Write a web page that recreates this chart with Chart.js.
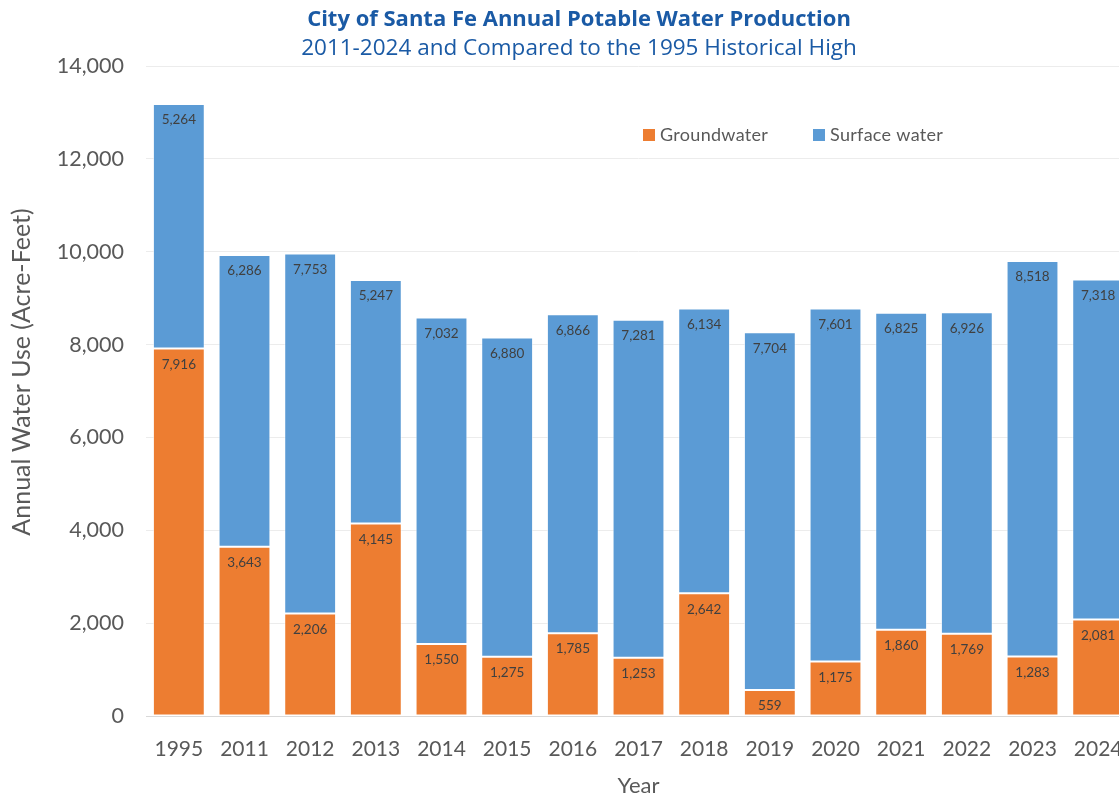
<!DOCTYPE html>
<html>
<head>
<meta charset="utf-8">
<script src="https://cdn.jsdelivr.net/npm/chart.js@4.4.1/dist/chart.umd.min.js"></script>
<style>
  html, body { margin: 0; padding: 0; background: #ffffff; overflow: hidden; }
  #wrap { width: 1158px; height: 797px; }
</style>
</head>
<body>
<div id="wrap"><canvas id="c" width="1158" height="797"></canvas></div>
<script>
const categories = ['1995','2011','2012','2013','2014','2015','2016','2017','2018','2019','2020','2021','2022','2023','2024'];
const groundwater = [7916, 3643, 2206, 4145, 1550, 1275, 1785, 1253, 2642, 559, 1175, 1860, 1769, 1283, 2081];
const surfaceWater = [5264, 6286, 7753, 5247, 7032, 6880, 6866, 7281, 6134, 7704, 7601, 6825, 6926, 8518, 7318];
const yTicks = [0, 2000, 4000, 6000, 8000, 10000, 12000, 14000];
const yTitle = 'Annual Water Use (Acre-Feet)';

const ORANGE = '#ED7D31';
const BLUE = '#5B9BD5';
const TEXT = '#595959';

const dataLabels = {
  id: 'dataLabels',
  afterDatasetsDraw(chart) {
    const ctx = chart.ctx;
    ctx.save();
    ctx.font = '13.5px Lato';
    ctx.fillStyle = '#404040';
    ctx.textAlign = 'center';
    ctx.textBaseline = 'middle';
    chart.data.datasets.forEach((ds, i) => {
      const meta = chart.getDatasetMeta(i);
      meta.data.forEach((bar, j) => {
        ctx.fillText(ds.data[j].toLocaleString('en-US'), bar.x, bar.y + 16);
      });
    });
    ctx.restore();
  }
};

const innerLegend = {
  id: 'innerLegend',
  afterDraw(chart) {
    const ctx = chart.ctx;
    const a = chart.chartArea;
    ctx.save();
    ctx.font = '18px Lato';
    ctx.letterSpacing = '0.3px';
    ctx.textBaseline = 'middle';
    ctx.textAlign = 'left';
    const y = a.top + 69;
    const starts = [a.left + 497, a.left + 667];
    chart.data.datasets.forEach((ds, i) => {
      const x = starts[i];
      ctx.fillStyle = ds.backgroundColor;
      ctx.fillRect(x, y - 6, 12, 12);
      ctx.fillStyle = TEXT;
      ctx.fillText(ds.label, x + 17, y);
    });
    ctx.restore();
  }
};

const yAxisTitle = {
  id: 'yAxisTitle',
  afterDraw(chart) {
    const ctx = chart.ctx;
    const a = chart.chartArea;
    ctx.save();
    ctx.font = '25px Lato';
    ctx.fillStyle = TEXT;
    ctx.textAlign = 'center';
    ctx.textBaseline = 'middle';
    ctx.translate(22, (a.top + a.bottom) / 2 - 19);
    ctx.rotate(-Math.PI / 2);
    ctx.fillText(yTitle, 0, 0);
    ctx.restore();
  }
};

new Chart(document.getElementById('c'), {
  type: 'bar',
  data: {
    labels: categories,
    datasets: [
      { label: 'Groundwater', data: groundwater, backgroundColor: ORANGE, borderColor: 'rgba(255,255,255,0.55)', borderWidth: 1, borderSkipped: false, barPercentage: 0.79, categoryPercentage: 1 },
      { label: 'Surface water', data: surfaceWater, backgroundColor: BLUE, borderColor: 'rgba(255,255,255,0.55)', borderWidth: 1, borderSkipped: false, barPercentage: 0.79, categoryPercentage: 1 }
    ]
  },
  options: {
    responsive: false,
    animation: false,
    devicePixelRatio: 1,
    layout: { padding: { left: 27, right: 27, top: 0, bottom: 0 } },
    plugins: {
      legend: { display: false },
      tooltip: { enabled: false },
      title: {
        display: true,
        text: 'City of Santa Fe Annual Potable Water Production',
        color: '#1a5aa5',
        font: { family: 'Open Sans', size: 22, weight: 'bold', lineHeight: 1.2 },
        padding: { top: 7, bottom: 2 }
      },
      subtitle: {
        display: true,
        text: '2011-2024 and Compared to the 1995 Historical High',
        color: '#1a5aa5',
        font: { family: 'Open Sans', size: 22.5, weight: 'normal', lineHeight: 1.2 },
        padding: { top: 0, bottom: 3.6 }
      }
    },
    scales: {
      x: {
        stacked: true,
        grid: { display: false, drawTicks: false },
        border: { display: true, color: '#d9d9d9', width: 1 },
        ticks: { color: TEXT, font: { family: 'Lato', size: 21 }, padding: 21, maxRotation: 0, autoSkip: false },
        title: { display: true, text: 'Year', color: TEXT, font: { family: 'Lato', size: 22, lineHeight: 1 }, padding: { top: 0, bottom: 0 } },
        afterFit(scale) { scale.height = 81; }
      },
      y: {
        stacked: true,
        min: 0,
        max: 14000,
        grid: { color: '#ececec', drawTicks: false, lineWidth: 1 },
        border: { display: false },
        afterBuildTicks(scale) { scale.ticks = yTicks.map(v => ({ value: v })); },
        ticks: { color: TEXT, font: { family: 'Lato', size: 21.5 }, padding: 22, callback: v => v.toLocaleString('en-US') },
        title: { display: false },
        afterFit(scale) { scale.width = 119; }
      }
    }
  },
  plugins: [dataLabels, innerLegend, yAxisTitle]
});
</script>
</body>
</html>
